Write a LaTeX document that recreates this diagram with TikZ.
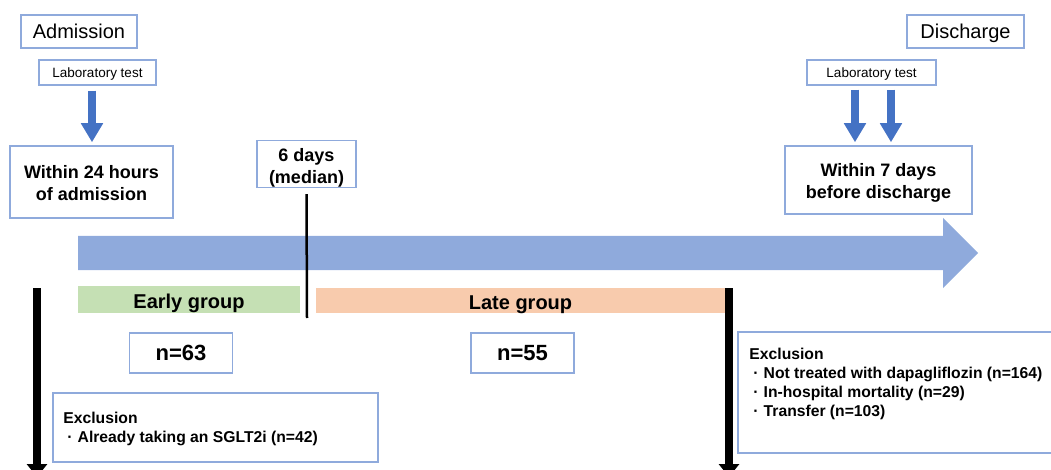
\documentclass[tikz,border=0pt]{standalone}
\usepackage{fontspec}
\setmainfont{Liberation Sans}
\usetikzlibrary{arrows.meta}
\definecolor{boxblue}{RGB}{143,170,220}
\definecolor{arrblue}{RGB}{68,114,196}
\definecolor{timeblue}{RGB}{143,170,220}
\definecolor{earlygreen}{RGB}{197,224,180}
\definecolor{lateorange}{RGB}{248,203,173}
\newcommand{\topstrut}[1]{\rule{0pt}{#1}}

\begin{document}
\begin{tikzpicture}[x=1pt,y=-1pt,
    box/.style={draw=boxblue,line width=1.5pt,inner sep=0pt,align=center},
    bar/.style={inner sep=0pt,text height=18pt,text depth=0pt,font=\bfseries\fontsize{20}{24}\selectfont},
    headbox/.style={box,minimum height=33pt,text height=14.4pt,text depth=0pt,font=\fontsize{20}{24}\selectfont},
    labtest/.style={box,minimum height=25pt,text height=9.7pt,text depth=0pt,font=\fontsize{13.5}{16}\selectfont},
    bigtext/.style={font=\bfseries\fontsize{18}{22}\selectfont},
    nbox/.style={box,minimum width=103pt,minimum height=40pt,text height=15.8pt,text depth=0pt,font=\bfseries\fontsize{22}{26}\selectfont},
    exclnote/.style={anchor=north west,inner sep=0pt,align=left,font=\bfseries\fontsize{15.7}{19}\selectfont},
    bluearr/.style={arrblue,line width=8pt,-{Triangle[width=21pt,length=19pt]}},
    blackarr/.style={black,line width=8pt,-{Triangle[width=20pt,length=13pt]}}]
  \useasboundingbox (0,0) rectangle (1051,470);

  % time line
  \fill[timeblue] (78,236) -- (943,236) -- (943,218) -- (978,253) -- (943,288) -- (943,270) -- (78,270) -- cycle;

  % top boxes
  \node[headbox,minimum width=116pt] (adm) at (79,31.5) {Admission};
  \node[headbox,minimum width=117pt] (dis) at (965.5,31.5) {Discharge};
  \node[labtest,minimum width=117pt] (labA) at (97.5,72.5) {Laboratory test};
  \node[labtest,minimum width=129pt] (labB) at (871.5,72.5) {Laboratory test};
  \node[box,bigtext,minimum width=163pt,minimum height=72pt] (w24) at (91.5,182) {\topstrut{16pt}Within 24 hours\\of admission};
  \node[box,bigtext,minimum width=187pt,minimum height=68pt] (w7) at (878.5,180) {\topstrut{19pt}Within 7 days\\before discharge};
  \node[box,bigtext,minimum width=99pt,minimum height=46pt] (days) at (306.5,164) {\topstrut{21pt}6 days\\(median)};

  \draw[bluearr] ([xshift=-5.5pt,yshift=-5pt]labA.south) -- ([xshift=0.5pt,yshift=3pt]w24.north);
  \draw[bluearr] ([xshift=-16.5pt,yshift=-4pt]labB.south) -- ([xshift=-23.5pt,yshift=3pt]w7.north);
  \draw[bluearr] ([xshift=19.5pt,yshift=-4pt]labB.south) -- ([xshift=12.5pt,yshift=3pt]w7.north);

  % groups
  \node[bar,fill=earlygreen,minimum width=222pt,minimum height=27pt] (early) at (189,299.5) {Early group};
  \node[bar,fill=lateorange,minimum width=409pt,minimum height=25pt] (late) at (520.5,300.5) {Late group};
  \coordinate (medEnd) at (307,318);
  \draw[line width=2.5pt] ([yshift=-6pt]days.south) -- (medEnd);

  \node[nbox] (nEarly) at (181,353) {n=63};
  \node[nbox] (nLate) at (522.5,353) {n=55};

  % exclusions
  \coordinate (leftTop) at (37,288);
  \coordinate (leftEnd) at (37,477);
  \coordinate (rightTop) at (729,288);
  \coordinate (rightEnd) at (729,477);
  \draw[blackarr] (leftTop) -- (leftEnd);
  \draw[blackarr] (rightTop) -- (rightEnd);

  \node[box,minimum width=325pt,minimum height=69pt] (exA) at (215.5,427.5) {};
  \node[exclnote] (exAtext) at ([xshift=11pt,yshift=-20pt]exA.north west)
    {Exclusion\\\hspace{4pt}·\hspace{5pt}Already taking an SGLT2i (n=42)};
  \node[box,minimum width=327pt,minimum height=121pt] (exB) at (901.5,392.5) {};
  \node[exclnote] (exBtext) at ([xshift=12pt,yshift=-17pt]exB.north west)
    {Exclusion\\\hspace{4pt}·\hspace{5pt}Not treated with dapagliflozin (n=164)\\\hspace{4pt}·\hspace{5pt}In-hospital mortality (n=29)\\\hspace{4pt}·\hspace{5pt}Transfer (n=103)};
\end{tikzpicture}
\end{document}
